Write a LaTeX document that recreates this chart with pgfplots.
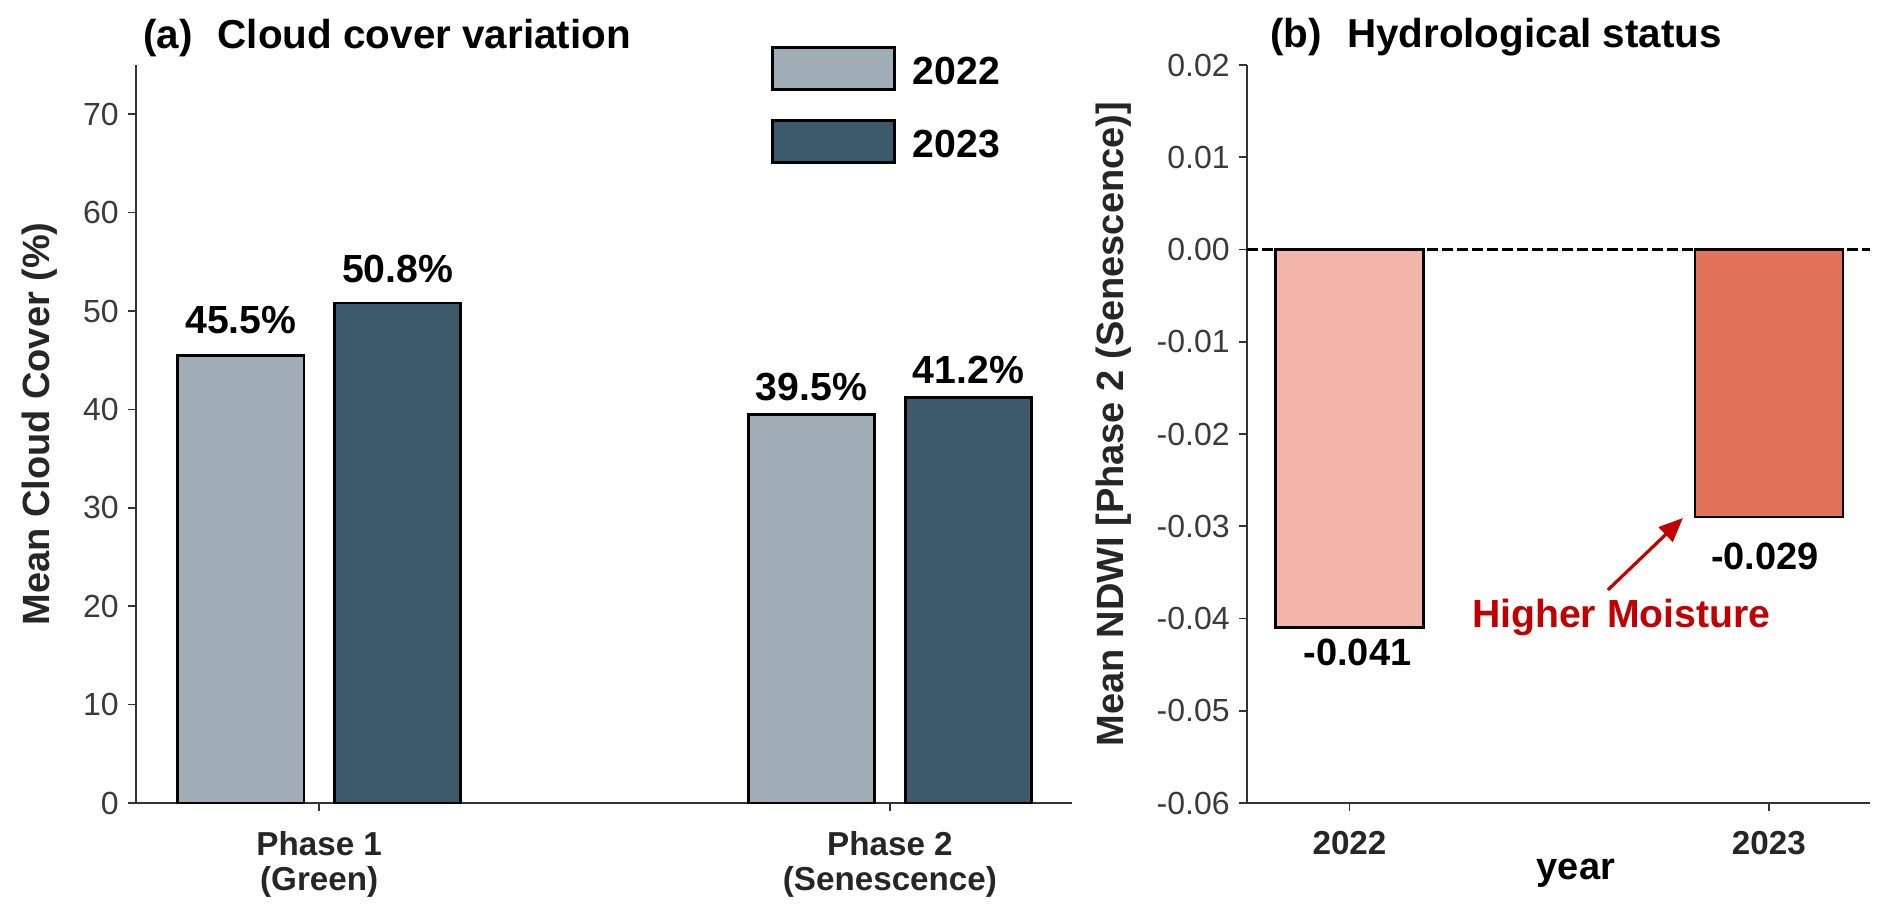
\documentclass[border=0pt]{standalone}
\usepackage{fontspec}
\setmainfont{Liberation Sans}
\usepackage{pgfplots}
\usepackage{pgfplotstable}
\pgfplotsset{compat=1.18}
\usetikzlibrary{arrows.meta}

\definecolor{c22}{HTML}{A0ADB6}
\definecolor{c23}{HTML}{3D5A6C}
\definecolor{r22}{HTML}{F1B6A9}
\definecolor{r23}{HTML}{E3725B}
\definecolor{hm}{HTML}{C00000}
\definecolor{axc}{HTML}{333333}
\definecolor{tkc}{HTML}{3A3A3A}
\definecolor{lbc}{HTML}{262626}

\newcommand{\fbig}{\fontsize{19.6}{22}\selectfont\bfseries}
\newcommand{\flab}{\fontsize{19}{22}\selectfont\bfseries}
\newcommand{\ftitle}{\fontsize{20.2}{23}\selectfont\bfseries}
\newcommand{\ftick}{\fontsize{16}{18}\selectfont}
\newcommand{\fxtick}{\fontsize{16.6}{17.5}\selectfont\bfseries}

% grouped bars: x = category (1, 2) +/- dodge offset 0.1374
\pgfplotstableread{
x y off
0.8626 45.5 11
1.8626 39.5 7
}\cloudA
\pgfplotstableread{
x y off
1.1374 50.8 10.5
2.1374 41.2 7
}\cloudB

\pgfplotsset{
  common/.style={
    scale only axis, clip=false, anchor=south west,
    axis x line*=bottom, axis y line*=left,
    axis line style={axc, line width=0.8pt},
    every tick/.style={axc, line width=0.8pt},
    tick align=outside, major tick length=4pt,
    /pgf/number format/assume math mode=true,
    yticklabel style={font=\ftick, text=tkc, anchor=east, inner sep=0pt, xshift=-4.5pt},
    xticklabel style={font=\fxtick, text=lbc, align=center, anchor=north, inner sep=0pt, yshift=-10pt},
    title style={font=\ftitle, at={(axis description cs:0,1)}, anchor=base west, inner sep=0pt, yshift=2.5pt},
    ylabel style={font=\flab, text=lbc, anchor=base, inner sep=0pt},
    xlabel style={font=\flab, text=black, anchor=base, inner sep=0pt},
  },
  legbox/.style={legend image code/.code={\draw[##1, line width=1.5pt] (0pt,-8.75pt) rectangle (61pt,12.25pt);}},
}

\begin{document}
\begin{tikzpicture}
\useasboundingbox (0,0) rectangle (946pt,460.5pt);

% ---------------- panel (a)
\begin{axis}[common,
  at={(68pt,59pt)}, width=468pt, height=369pt,
  xmin=0.679, xmax=2.319, ymin=0, ymax=75,
  xtick={1,2}, xticklabels={{Phase 1\\(Green)},{Phase 2\\(Senescence)}},
  ytick={0,10,20,30,40,50,60,70},
  ylabel={Mean Cloud Cover (\%)},
  ylabel style={at={(axis description cs:-0.0919,0.5136)}},
  title={(a)\hspace{0.62em}Cloud cover variation},
  title style={xshift=3.5pt},
  bar width=0.221,
  legend style={at={(axis description cs:0.6784,1.0257)}, anchor=north west,
    draw=none, fill=none, inner sep=0pt, outer sep=0pt, row sep=14pt,
    font=\fbig, nodes={inner sep=0pt, outer sep=0pt},
    /tikz/every odd column/.append style={column sep=8.5pt}},
  legend cell align=left,
]
\addplot[ybar, bar shift=0, fill=c22, draw=black, line width=1.3pt, legbox,
  visualization depends on={\thisrow{off}\as\myoff},
  nodes near coords={\pgfmathprintnumber[fixed,fixed zerofill,precision=1]{\pgfplotspointmeta}\%},
  every node near coord/.append style={font=\fbig, text=black, anchor=base, inner sep=0pt, yshift=\myoff pt}]
  table[x=x,y=y] {\cloudA};
\addlegendentry{2022}
\addplot[ybar, bar shift=0, fill=c23, draw=black, line width=1.3pt, legbox,
  visualization depends on={\thisrow{off}\as\myoff},
  nodes near coords={\pgfmathprintnumber[fixed,fixed zerofill,precision=1]{\pgfplotspointmeta}\%},
  every node near coord/.append style={font=\fbig, text=black, anchor=base, inner sep=0pt, yshift=\myoff pt}]
  table[x=x,y=y] {\cloudB};
\addlegendentry{2023}
\end{axis}

% ---------------- panel (b)
\begin{axis}[common,
  at={(623.5pt,59pt)}, width=311.5pt, height=369pt,
  xmin=0.7557, xmax=2.241, ymin=-0.06, ymax=0.02,
  xtick={1,2}, xticklabels={2022,2023},
  ytick={-0.06,-0.05,-0.04,-0.03,-0.02,-0.01,0,0.01,0.02},
  scaled y ticks=false,
  yticklabel style={/pgf/number format/.cd, fixed, fixed zerofill, precision=2},
  ylabel={Mean NDWI [Phase 2 (Senescence)]},
  ylabel style={at={(axis description cs:-0.199,0.5136)}},
  xlabel={year},
  xlabel style={at={(axis description cs:0.528,0)}, yshift=-38.5pt},
  title={(b)\hspace{0.62em}Hydrological status},
  title style={xshift=11.5pt},
  bar width=0.353,
]
\draw[black, line width=1.7pt, dash pattern=on 5.5pt off 2pt] (axis cs:0.7557,0) -- (axis cs:2.241,0);
\addplot[ybar, bar shift=0, fill=r22, draw=black, line width=1.3pt,
  nodes near coords={\pgfmathprintnumber[fixed,precision=3]{\pgfplotspointmeta}},
  every node near coord/.append style={font=\flab, text=black, anchor=north, inner sep=0pt, yshift=-5pt, xshift=4pt}]
  coordinates {(1,-0.041)};
\addplot[ybar, bar shift=0, fill=r23, draw=black, line width=1.3pt,
  nodes near coords={\pgfmathprintnumber[fixed,precision=3]{\pgfplotspointmeta}},
  every node near coord/.append style={font=\flab, text=black, anchor=north, inner sep=0pt, yshift=-12.5pt, xshift=-2pt}]
  coordinates {(2,-0.029)};
\draw[hm, line width=1.6pt, -{Triangle[length=12pt,width=10pt]}] (axis cs:1.616,-0.03691) -- (axis cs:1.795,-0.02911);
\node[anchor=base, font=\fbig, text=hm, inner sep=0pt] at (axis cs:1.648,-0.04103) {Higher Moisture};
\end{axis}
\end{tikzpicture}
\end{document}
